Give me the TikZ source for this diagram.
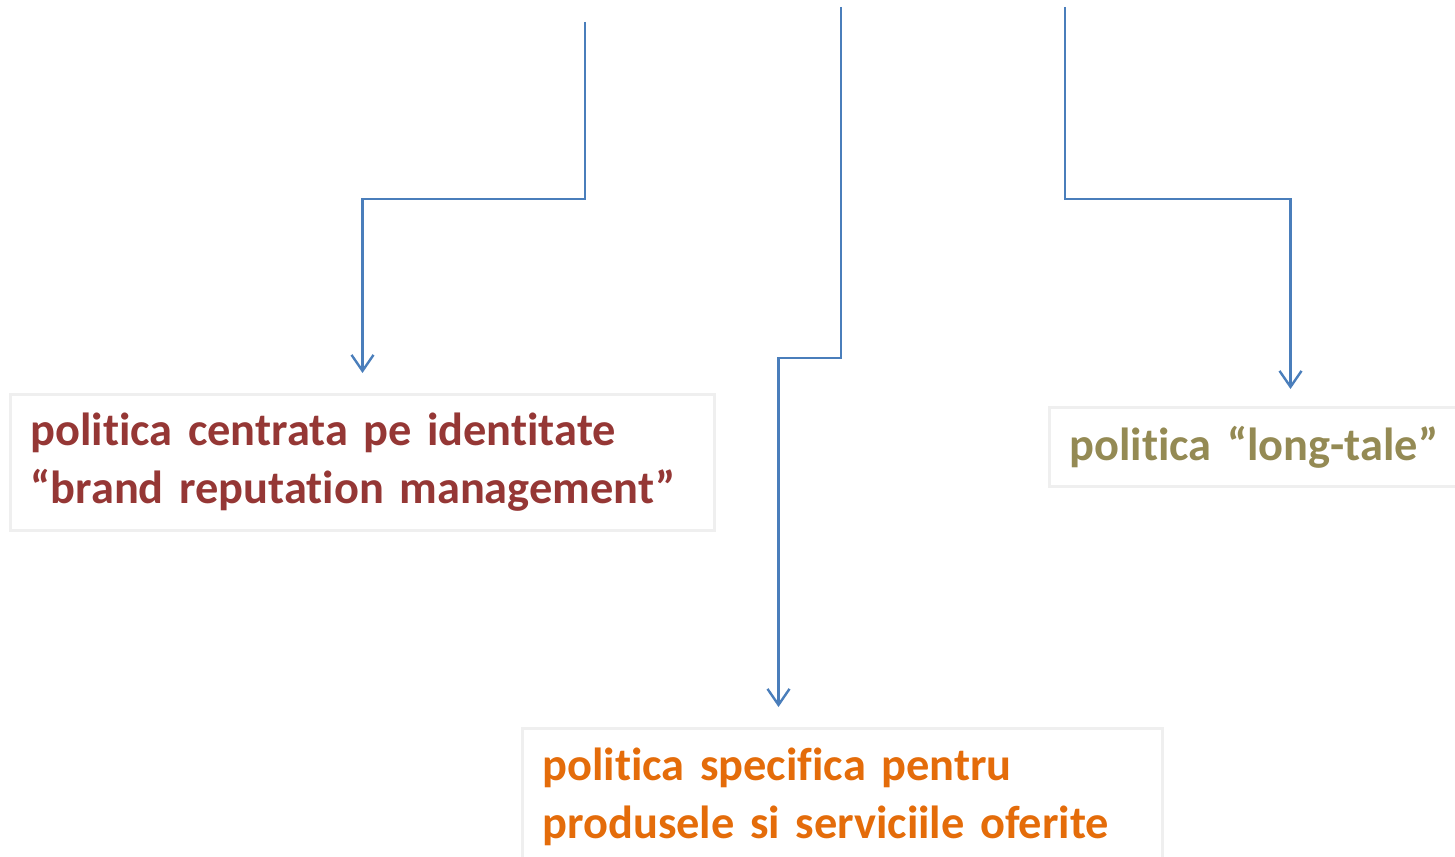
\documentclass[tikz,border=0pt]{standalone}
\usepackage{fontspec}
\setmainfont{Carlito}[Ligatures={NoCommon,NoRare},WordSpace=0.8]
\usetikzlibrary{arrows.meta}
\definecolor{linkblue}{HTML}{4A7EBB}
\definecolor{boxgray}{HTML}{EFEFEF}
\definecolor{brandred}{HTML}{953735}
\definecolor{tailolive}{HTML}{948A54}
\definecolor{prodorange}{HTML}{E46C0A}
\begin{document}
\begin{tikzpicture}[x=0.5pt,y=-0.5pt,
	box/.style={draw=boxgray,line width=1.5pt,anchor=north west,inner xsep=10pt,align=left,font=\fontsize{23.2}{29}\selectfont\bfseries},
	link/.style={draw=linkblue,line width=1.2pt,-{Straight Barb[length=8pt,width=11pt]},shorten >=10pt}]

	\useasboundingbox (0,0) rectangle (1455,856);

	\node[box, text=brandred, text width=332pt, minimum height=68pt] (brand) at (9,393) {politica centrata pe identitate\\“brand reputation management”};
	\node[box, text=tailolive, text width=188pt, minimum height=39.5pt] (tail) at (1048,406) {politica “long-tale”};
	\node[box, text=prodorange, text width=300pt, minimum height=68pt] (prod) at (521,727) {politica specifica pentru\\produsele si serviciile oferite};

	\coordinate (srcL) at (585,22);
	\coordinate (srcM) at (841,7);
	\coordinate (srcR) at (1065,7);

	\draw[link] (srcL) -- ++(0,177) -| (brand.north);
	\draw[link] (srcM) -- ++(0,351) -| ([xshift=-32pt]prod.north);
	\draw[link, shorten >=8.5pt] (srcR) -- ++(0,192) -| ([xshift=16.5pt]tail.north);

\end{tikzpicture}
\end{document}
